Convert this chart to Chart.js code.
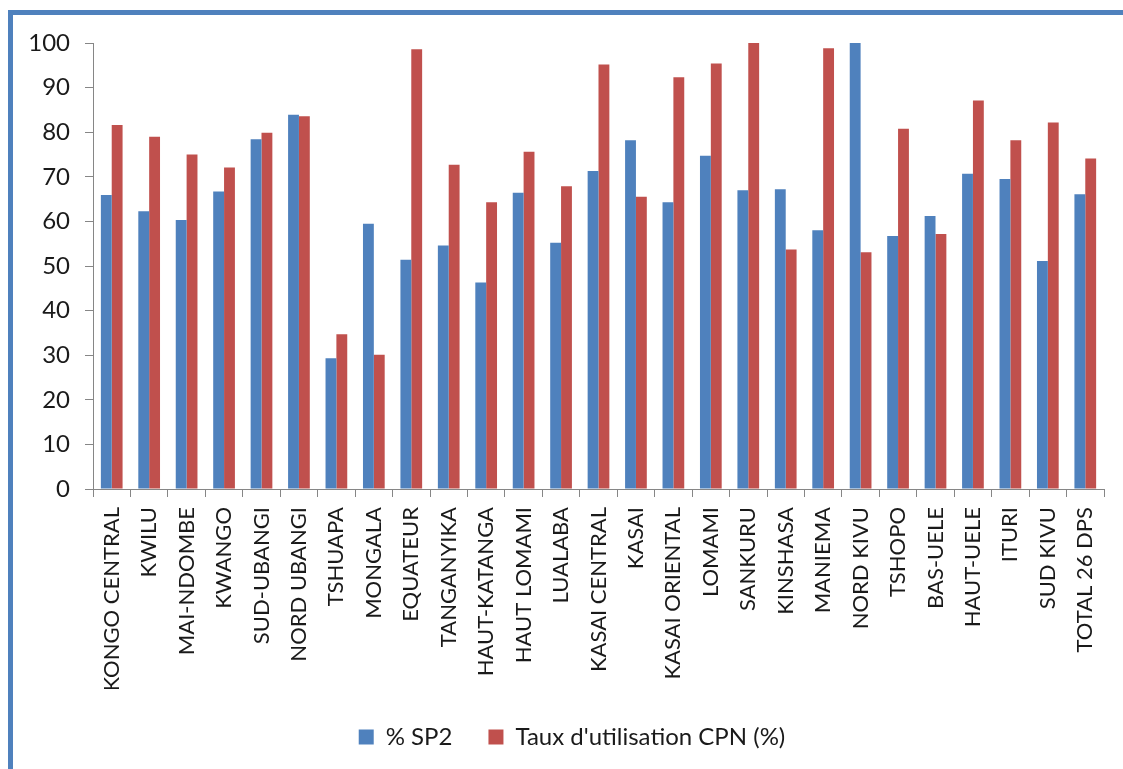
<!DOCTYPE html>
<html>
<head>
<meta charset="utf-8">
<script src="https://cdn.jsdelivr.net/npm/chart.js@4"></script>
<style>
    html, body { margin: 0; padding: 0; background: #fff; overflow: hidden; }
    #frame {
        position: absolute; left: 8px; top: 10px; width: 1300px; height: 900px;
        border-left: 5px solid #4F81BD; border-top: 5px solid #4F81BD;
    }
    #wrap { position: absolute; left: 0; top: 0; width: 1123px; height: 769px; }
</style>
</head>
<body>
<div id="frame"></div>
<div id="wrap"><canvas id="chart" width="1123" height="769"></canvas></div>
<script>
// categories and series
const provinces = ['KONGO CENTRAL', 'KWILU', 'MAI-NDOMBE', 'KWANGO', 'SUD-UBANGI', 'NORD UBANGI',
    'TSHUAPA', 'MONGALA', 'EQUATEUR', 'TANGANYIKA', 'HAUT-KATANGA', 'HAUT LOMAMI', 'LUALABA',
    'KASAI CENTRAL', 'KASAI', 'KASAI ORIENTAL', 'LOMAMI', 'SANKURU', 'KINSHASA', 'MANIEMA',
    'NORD KIVU', 'TSHOPO', 'BAS-UELE', 'HAUT-UELE', 'ITURI', 'SUD KIVU', 'TOTAL 26 DPS'];
const sp2 = [65.9, 62.3, 60.3, 66.7, 78.4, 83.9, 29.3, 59.5, 51.4, 54.6, 46.3, 66.4, 55.2,
    71.3, 78.2, 64.3, 74.7, 67.0, 67.2, 58.0, 100, 56.7, 61.2, 70.7, 69.5, 51.1, 66.1];
const cpn = [81.6, 79.0, 75.0, 72.1, 79.9, 83.6, 34.7, 30.1, 98.6, 72.7, 64.3, 75.6, 67.9,
    95.2, 65.5, 92.3, 95.4, 100, 53.7, 98.8, 53.1, 80.8, 57.2, 87.1, 78.2, 82.2, 74.1];
const yTicks = [0, 10, 20, 30, 40, 50, 60, 70, 80, 90, 100];

const axisColor = '#868686';
const textColor = '#1a1a1a';
const fontFamily = 'Lato, "Open Sans", sans-serif';

// the legend in the original sits a little right of the canvas centre
const legendShift = {
    id: 'legendShift',
    afterLayout(chart) {
        chart.legend.left += 20;
        chart.legend.right += 20;
    }
};

new Chart(document.getElementById('chart'), {
    type: 'bar',
    data: {
        labels: provinces,
        datasets: [
            { label: '% SP2', data: sp2, backgroundColor: '#4F81BD', borderWidth: 0 },
            { label: "Taux d'utilisation CPN (%)", data: cpn, backgroundColor: '#C0504D', borderWidth: 0 }
        ]
    },
    plugins: [legendShift],
    options: {
        responsive: false,
        animation: false,
        devicePixelRatio: 1,
        categoryPercentage: 0.58,
        barPercentage: 1,
        layout: { padding: { top: 43, left: 0, right: 19, bottom: 10 } },
        plugins: {
            tooltip: { enabled: false },
            legend: {
                position: 'bottom',
                labels: {
                    color: textColor,
                    font: { family: fontFamily, size: 24 },
                    boxWidth: 15,
                    boxHeight: 15,
                    padding: 36
                }
            }
        },
        scales: {
            x: {
                afterFit: (scale) => { scale.height = 200; },
                grid: { drawOnChartArea: false, drawTicks: true, tickLength: 8, color: axisColor, offset: true },
                border: { color: axisColor },
                ticks: {
                    color: textColor,
                    font: { family: fontFamily, size: 22 },
                    minRotation: 90, maxRotation: 90,
                    padding: 10,
                    autoSkip: false
                }
            },
            y: {
                min: 0, max: 100,
                afterFit: (scale) => { scale.width = 93; },
                afterBuildTicks: (scale) => { scale.ticks = yTicks.map(v => ({ value: v })); },
                grid: { drawOnChartArea: false, drawTicks: true, tickLength: 8, color: axisColor },
                border: { color: axisColor },
                ticks: {
                    color: textColor,
                    font: { family: fontFamily, size: 24 },
                    padding: 15
                }
            }
        }
    }
});
</script>
</body>
</html>
